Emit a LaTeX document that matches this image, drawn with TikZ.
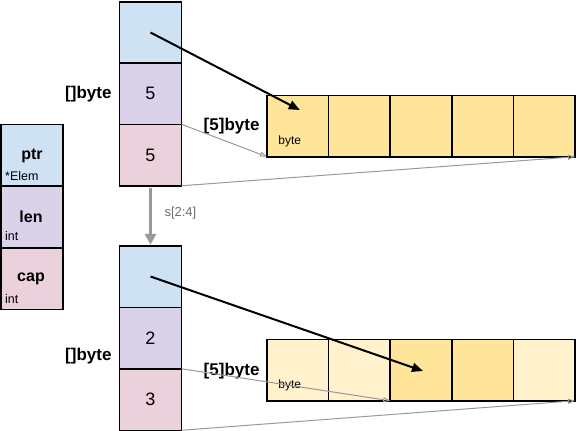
\documentclass[tikz,border=0pt]{standalone}
\usepackage{fontspec}
\setmainfont{Liberation Sans}
\usetikzlibrary{arrows.meta,calc}
\definecolor{ptrc}{HTML}{CFE2F3}
\definecolor{lenc}{HTML}{D9D2E9}
\definecolor{capc}{HTML}{EAD1DC}
\definecolor{yel}{HTML}{FFE599}
\definecolor{lyel}{HTML}{FFF2CC}
\definecolor{gline}{HTML}{999999}
\definecolor{gtext}{HTML}{6E6E6E}
\begin{document}
\begin{tikzpicture}[x=1pt,y=-1pt,
  cell/.style={draw=black,line width=1.5pt,minimum width=62pt,minimum height=61.5pt,inner sep=0pt,outer sep=0pt},
  acell/.style={draw=black,line width=1.5pt,minimum width=61.6pt,minimum height=61.5pt,inner sep=0pt,outer sep=0pt},
  big/.style={font=\fontsize{18}{21}\selectfont},
  bigb/.style={font=\fontsize{17}{20}\selectfont\bfseries},
  lbl/.style={font=\fontsize{16}{19}\selectfont\bfseries},
  small/.style={font=\fontsize{12.5}{14}\selectfont,inner sep=0pt},
  tiny/.style={font=\fontsize{12}{14}\selectfont,inner sep=0pt},
  ptrarrow/.style={line width=2pt,-{Triangle[length=11pt,width=9pt]}},
  thin/.style={gline,line width=1pt,-{Triangle[open,length=7pt,width=5pt]}},
]
\useasboundingbox (0,0) rectangle (576,431);
% legend
\node[cell,fill=ptrc] (lp) at (32,155) {};
\node[cell,fill=lenc] (ll) at (32,217) {};
\node[cell,fill=capc] (lc) at (32,278.5) {};
\node[lbl] (lpt) at (32,156) {ptr};
\node[small,anchor=west] (lpe) at (5,176) {*Elem};
\node[lbl] (llt) at (31,217) {len};
\node[small,anchor=west] (lli) at (5,236) {int};
\node[lbl] (lct) at (31,279) {cap};
\node[small,anchor=west] (lci) at (5,299) {int};
% top slice
\node[cell,fill=ptrc] (t1) at (150.5,32.5) {};
\node[cell,fill=lenc] (t2) at (150.5,93.5) {};
\node[cell,fill=capc] (t3) at (150.5,155) {};
\node[big] at (t2) {5};
\node[big] at (t3) {5};
\node[bigb,anchor=east] (tl) at (115,94) {[]byte};
% top array
\foreach \i in {1,...,5}{
  \node[acell,fill=yel] (a\i) at ({267+30.8+61.6*(\i-1)},126) {};
}
\node[tiny] (ab) at ($(a1.center)+(-8,15)$) {byte};
\node[bigb,anchor=east] (al) at (263,126) {[5]byte};
% bottom slice
\node[cell,fill=ptrc] (b1) at (150.5,276.5) {};
\node[cell,fill=lenc] (b2) at (150.5,338) {};
\node[cell,fill=capc] (b3) at (150.5,399.5) {};
\node[big] at (b2) {2};
\node[big] at (b3) {3};
\node[bigb,anchor=east] (bl) at (115,356) {[]byte};
% bottom array
\foreach \i/\c in {1/lyel,2/lyel,3/yel,4/yel,5/lyel}{
  \node[acell,fill=\c] (c\i) at ({267+30.8+61.6*(\i-1)},370) {};
}
\node[tiny] (cb) at ($(c1.center)+(-8,15)$) {byte};
\node[bigb,anchor=east] (cl) at (263,371) {[5]byte};
% connectors
\coordinate (tend) at ($(a1.center)+(2,-16)$);
\coordinate (bend) at ($(c3.center)+(2,1)$);
\draw[ptrarrow] (t1.center) -- (tend);
\draw[ptrarrow] (b1.center) -- (bend);
\draw[thin] (t2.south east) -- (a1.south west);
\draw[thin] (t3.south east) -- (a5.south east);
\draw[thin] (b2.south east) -- (c3.south west);
\draw[thin] (b3.south east) -- (c5.south east);
\draw[gline,line width=3pt,-{Triangle[length=11pt,width=11pt]}] ($(t3.south)+(0,2)$) -- ($(b1.north)+(0,-1)$);
\node[font=\fontsize{13}{15}\selectfont,text=gtext,anchor=west] (sl) at (161,213) {s[2:4]};
\end{tikzpicture}
\end{document}
